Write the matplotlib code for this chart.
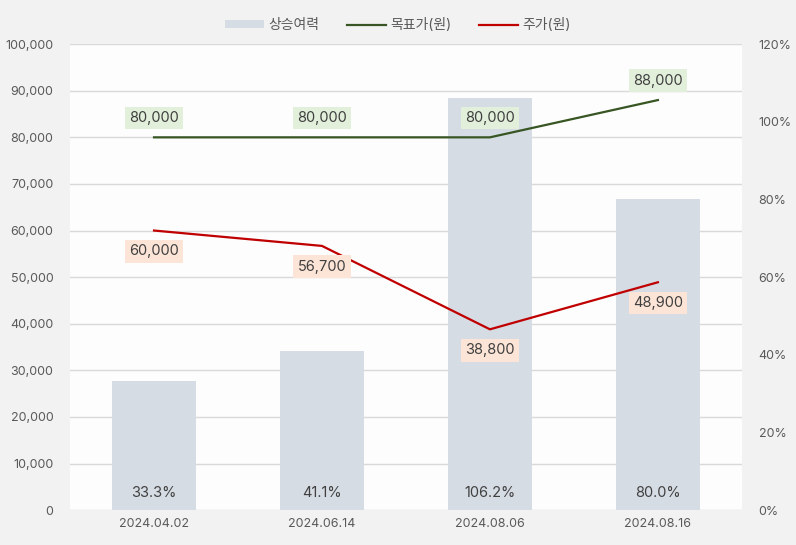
import matplotlib.pyplot as plt
import numpy as np

plt.rcParams['font.family'] = ['Inter', 'Noto Sans CJK KR', 'DejaVu Sans']

dates = ['2024.04.02', '2024.06.14', '2024.08.06', '2024.08.16']
upside = [33.3, 41.1, 106.2, 80.0]          # 상승여력 (%)
target = [80000, 80000, 80000, 88000]       # 목표가(원)
price = [60000, 56700, 38800, 48900]        # 주가(원)

x = np.arange(len(dates))

fig = plt.figure(figsize=(7.96, 5.45), dpi=100, facecolor='#f2f2f2')
ax = fig.add_axes([0.088, 0.064, 0.844, 0.855])
ax2 = ax.twinx()

# bars on right axis, behind lines
ax.set_zorder(2)
ax.patch.set_visible(False)
ax2.set_zorder(1)
ax2.patch.set_visible(True)
ax2.patch.set_facecolor('#fdfdfd')

ax2.bar(x, upside, width=0.5, color='#d6dce4', label='상승여력', zorder=2)
for xi, v in zip(x, upside):
	ax2.text(xi, 4.4, f'{v:.1f}%', ha='center', va='center', fontsize=10.5, color='#404040', zorder=3)
ax2.set_ylim(0, 120)
ax2.set_yticks(np.arange(0, 121, 20))
ax2.set_yticklabels([f'{v}%' for v in range(0, 121, 20)])

ax.plot(x, target, color='#375623', linewidth=1.6, label='목표가(원)', zorder=4)
ax.plot(x, price, color='#c00000', linewidth=1.6, label='주가(원)', zorder=4)

for xi, v in zip(x, target):
	ax.annotate(f'{v:,}', (xi, v), xytext=(0, 14), textcoords='offset points', ha='center', va='center',
		fontsize=10.5, color='#404040', zorder=5,
		bbox=dict(boxstyle='square,pad=0.3', fc='#e2efda', ec='none'))
for xi, v in zip(x, price):
	ax.annotate(f'{v:,}', (xi, v), xytext=(0, -15), textcoords='offset points', ha='center', va='center',
		fontsize=10.5, color='#404040', zorder=5,
		bbox=dict(boxstyle='square,pad=0.3', fc='#fce4d6', ec='none'))

ax.set_ylim(0, 100000)
ax.set_yticks(np.arange(0, 100001, 10000))
ax.set_yticklabels([f'{v:,}' for v in range(0, 100001, 10000)])
ax.set_xlim(-0.5, 3.5)
ax.set_xticks(x)
ax.set_xticklabels(dates)

# gridlines on the bar axis so they sit behind bars
for v in range(0, 100001, 10000):
	ax2.axhline(v / 100000 * 120, color='#d9d9d9', linewidth=1, zorder=0)

for a in (ax, ax2):
	for s in a.spines.values():
		s.set_visible(False)
	a.tick_params(length=0, labelsize=9, colors='#595959')
ax.tick_params(axis='y', pad=12)
ax.tick_params(axis='x', pad=6)
ax2.tick_params(axis='y', pad=12)

h1, l1 = ax2.get_legend_handles_labels()
h2, l2 = ax.get_legend_handles_labels()
fig.legend(h1 + h2, l1 + l2, loc='upper center', bbox_to_anchor=(0.5, 0.99), ncol=3, frameon=False,
	fontsize=10, labelcolor='#595959', handlelength=2.8, handleheight=0.5, columnspacing=2.0, handletextpad=0.3)

plt.savefig('out.png', dpi=100, facecolor=fig.get_facecolor())
